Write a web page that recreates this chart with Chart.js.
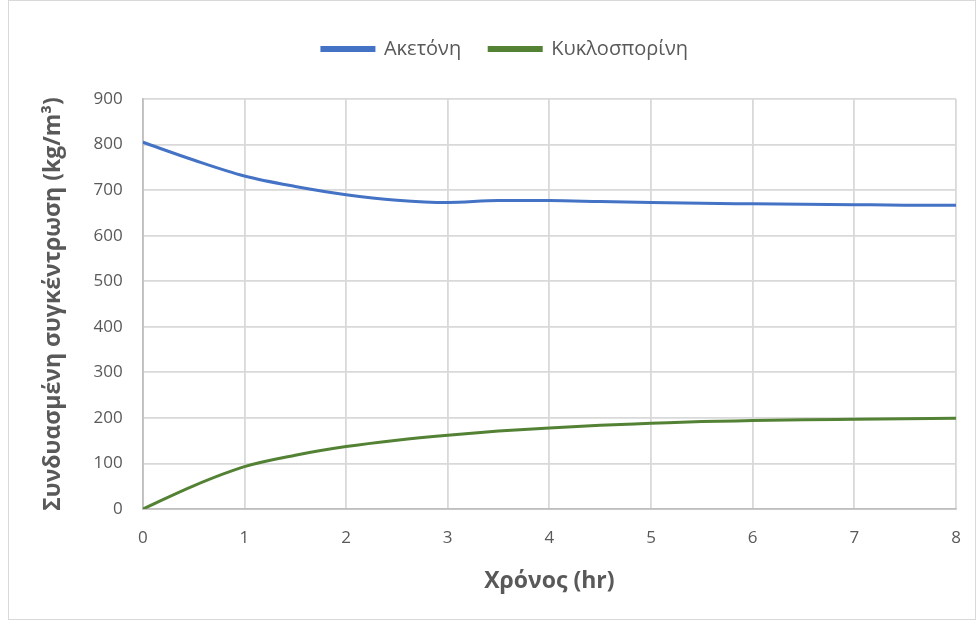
<!DOCTYPE html>
<html>
<head>
<meta charset="utf-8">
<script src="https://cdn.jsdelivr.net/npm/chart.js@4"></script>
<style>
    body { margin: 0; background: #fff; }
    #wrap { position: absolute; left: 8px; top: 0; width: 968px; height: 620px; border: 1px solid #d9d9d9; box-sizing: border-box; }
</style>
</head>
<body>
<div id="wrap"><canvas id="chart" width="966" height="618"></canvas></div>
<script>
const hours = [0, 0.5, 1, 1.5, 2, 2.5, 3, 3.5, 4, 4.5, 5, 5.5, 6, 6.5, 7, 7.5, 8];
const acetone = [805, 766, 731, 708, 690, 678, 673, 677, 677, 675, 673, 671, 670, 669, 668, 667, 667];
const cyclosporin = [0, 51, 93, 118, 137, 151, 162, 171, 178, 184, 188, 192, 194, 196, 197, 198, 199];
const seriesNames = ['Ακετόνη', 'Κυκλοσπορίνη'];

const toPoints = vals => vals.map((v, i) => ({ x: hours[i], y: v }));

// extra space under the legend, and nudge it right a bit
const legendGap = {
    id: 'legendGap',
    beforeInit(chart) {
        const fit = chart.legend.fit;
        chart.legend.fit = function () {
            fit.bind(chart.legend)();
            this.height += 30;
        };
    },
    afterLayout(chart) {
        chart.legend.left += 9;
        chart.legend.right += 9;
    }
};

const ctx = document.getElementById('chart').getContext('2d');

new Chart(ctx, {
    type: 'line',
    data: {
        datasets: [
            {
                label: seriesNames[0],
                data: toPoints(acetone),
                borderColor: '#4472C4',
                backgroundColor: '#4472C4',
                borderWidth: 3,
                pointRadius: 0,
                tension: 0.4,
                cubicInterpolationMode: 'monotone'
            },
            {
                label: seriesNames[1],
                data: toPoints(cyclosporin),
                borderColor: '#548235',
                backgroundColor: '#548235',
                borderWidth: 3,
                pointRadius: 0,
                tension: 0.4,
                cubicInterpolationMode: 'monotone'
            }
        ]
    },
    options: {
        responsive: false,
        animation: false,
        layout: { padding: { left: 27, right: 19, top: 10, bottom: 20 } },
        plugins: {
            legend: {
                position: 'top',
                labels: {
                    boxWidth: 52,
                    boxHeight: 3,
                    color: '#595959',
                    font: { family: 'Open Sans', size: 20 },
                    padding: 28
                }
            },
            tooltip: { enabled: false }
        },
        scales: {
            x: {
                type: 'linear',
                min: 0,
                max: 8,
                afterFit: scale => { scale.paddingRight = 0; },
                ticks: { stepSize: 1, color: '#595959', font: { family: 'Open Sans', size: 17 }, padding: 19 },
                grid: { color: '#d9d9d9', lineWidth: 1.8, drawTicks: false },
                border: { color: '#bfbfbf', width: 1.8 },
                title: { display: true, text: 'Χρόνος (hr)', color: '#595959', font: { family: 'Open Sans', size: 23, weight: 'bold' }, padding: { top: 0 } }
            },
            y: {
                min: 0,
                max: 900,
                ticks: { stepSize: 100, color: '#595959', font: { family: 'Open Sans', size: 17 }, padding: 20 },
                grid: { color: '#d9d9d9', lineWidth: 1.8, drawTicks: false },
                border: { color: '#bfbfbf', width: 1.8 },
                title: { display: true, text: 'Συνδυασμένη συγκέντρωση (kg/m³)', color: '#595959', font: { family: 'Open Sans', size: 23, weight: 'bold' }, padding: { bottom: 6 } }
            }
        }
    },
    plugins: [legendGap]
});
</script>
</body>
</html>
